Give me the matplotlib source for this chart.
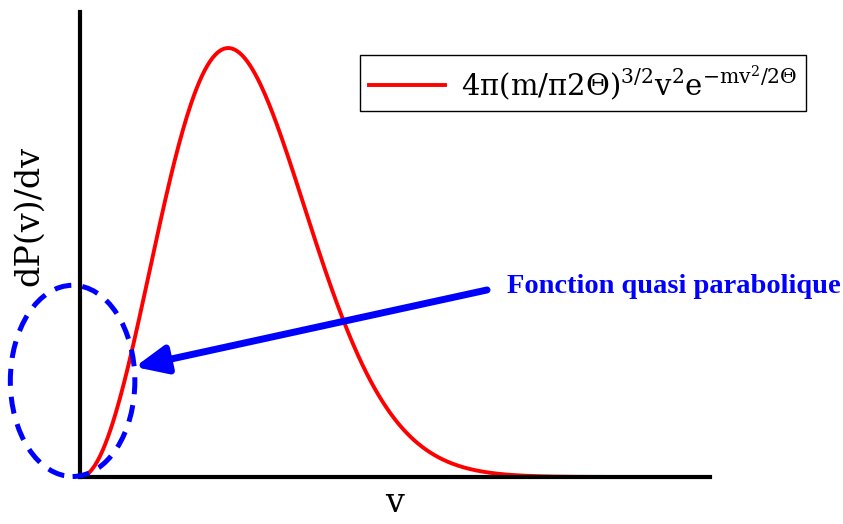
import numpy as np
import matplotlib.pyplot as plt
from matplotlib.patches import Ellipse

plt.rcParams['mathtext.fontset'] = 'dejavuserif'
plt.rcParams['font.family'] = 'DejaVu Serif'

# Maxwell speed distribution parameters (reduced units)
m = 1.0
theta = 0.5
v_max = 3.6
n_pts = 400

v = np.linspace(0, v_max, n_pts)
dP = 4 * np.pi * (m / (np.pi * 2 * theta)) ** 1.5 * v ** 2 * np.exp(-m * v ** 2 / (2 * theta))

fig = plt.figure(figsize=(8.43, 5.24), dpi=100)
ax = fig.add_axes([80 / 843, 47 / 524, 630 / 843, 465 / 524])

ax.plot(v, dP, color='red', lw=2.8,
        label=r'$\mathrm{4\pi(m/\pi2\Theta)^{3/2}v^2e^{-mv^2/2\Theta}}$')

ax.set_xlim(0, 4.25)
ax.set_ylim(0, 0.90)
for s in ['top', 'right']:
    ax.spines[s].set_visible(False)
for s in ['left', 'bottom']:
    ax.spines[s].set_linewidth(3)
ax.set_xticks([])
ax.set_yticks([])

ax.set_xlabel('v', fontsize=24, labelpad=7)
ax.set_ylabel('dP(v)/dv', fontsize=24)
ax.yaxis.set_label_coords(-0.056, 0.561)

# dashed ellipse around the low-speed region
ell = Ellipse((-0.05, 0.186), 0.84, 0.370, fill=False, edgecolor='blue',
              lw=3.6, ls=(0, (3.4, 2.2)), clip_on=False, zorder=3)
ax.add_patch(ell)

ax.annotate('', xy=(0.37, 0.213), xytext=(2.746, 0.362),
            arrowprops=dict(arrowstyle='-|>,head_length=1.9,head_width=0.85',
                            color='blue', lw=5, shrinkA=0, shrinkB=0))
ax.text(2.88, 0.368, 'Fonction quasi parabolique', color='blue',
        fontsize=20.5, fontweight='bold', family='Liberation Serif',
        va='center', ha='left')

leg = fig.legend(loc='upper right', bbox_to_anchor=(806 / 843, 1 - 55 / 524),
                 fontsize=21, fancybox=False, framealpha=1, edgecolor='black',
                 handlelength=2.6, borderpad=0.3, handletextpad=0.55,
                 borderaxespad=0)
leg.get_frame().set_linewidth(1)

fig.savefig('out.png', dpi=100)
